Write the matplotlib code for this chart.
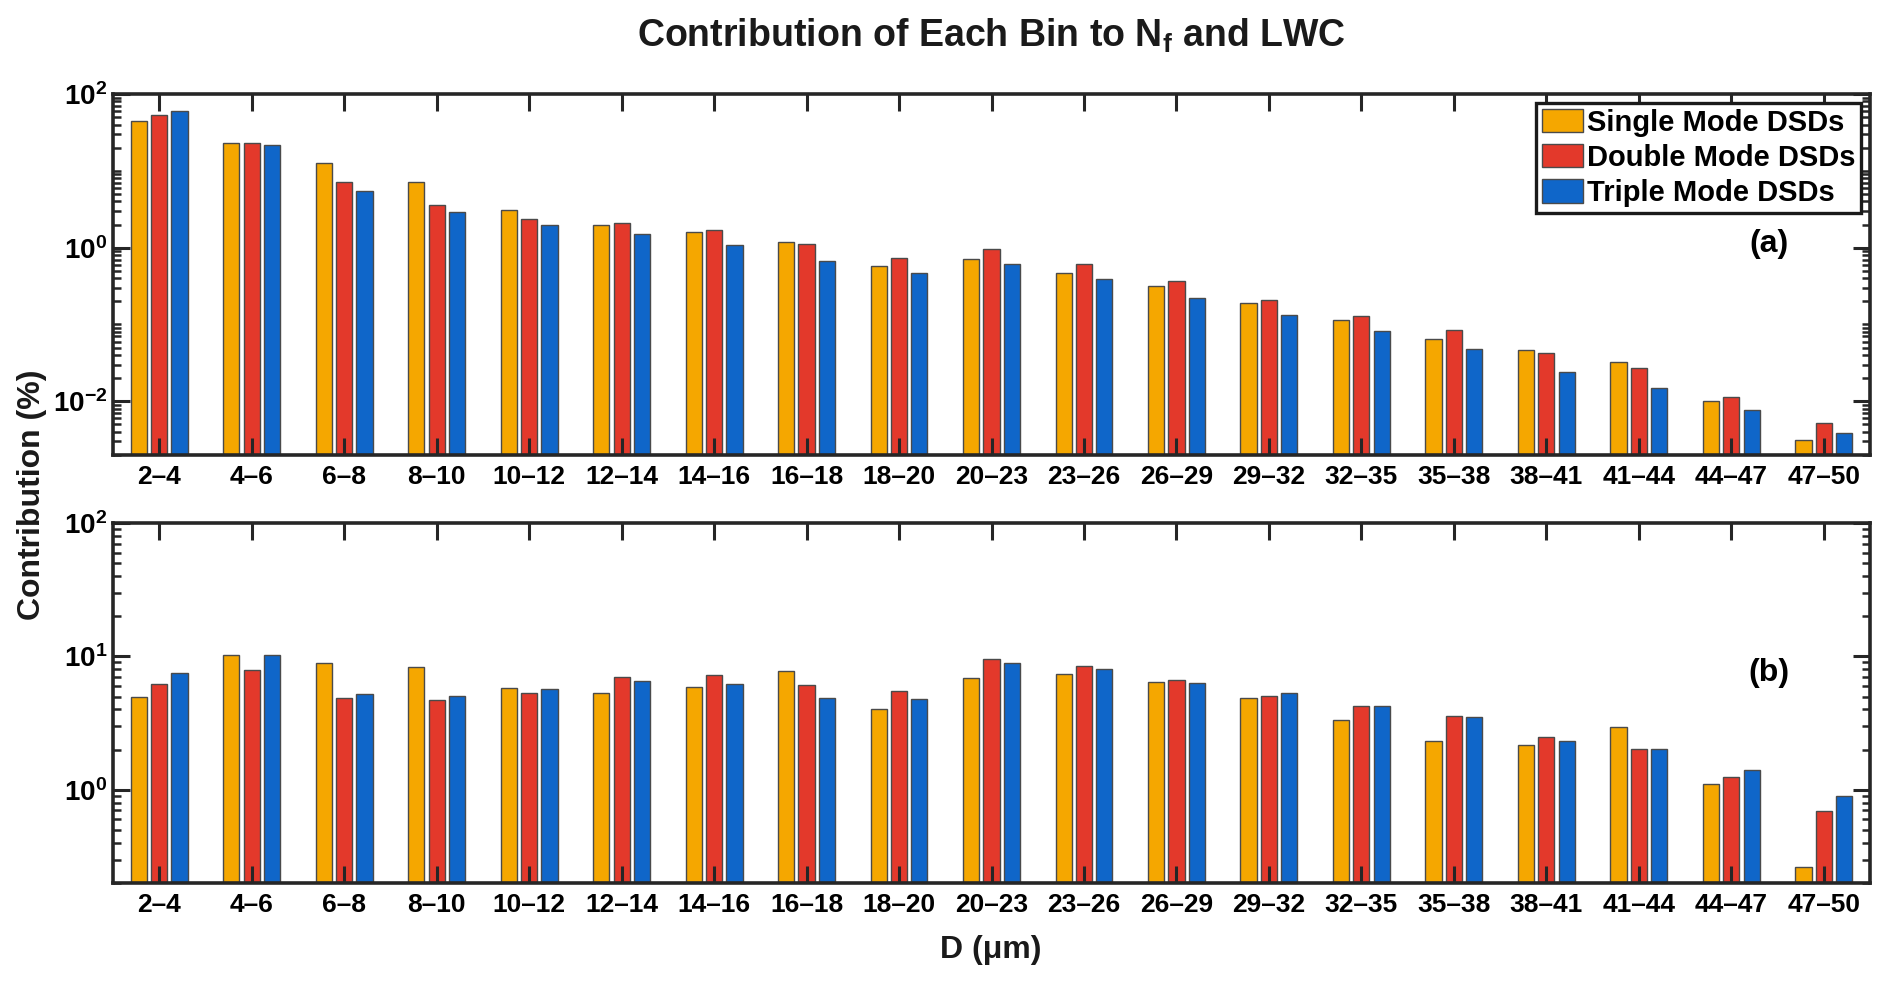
import matplotlib.pyplot as plt
import numpy as np
from matplotlib.ticker import FixedLocator, FixedFormatter, NullFormatter

plt.rcParams['font.family'] = ['Liberation Sans', 'DejaVu Sans']
plt.rcParams['font.weight'] = 'bold'
plt.rcParams['mathtext.fontset'] = 'custom'
plt.rcParams['mathtext.rm'] = 'Liberation Sans:bold'
plt.rcParams['mathtext.bf'] = 'Liberation Sans:bold'
plt.rcParams['mathtext.it'] = 'Liberation Sans:bold'

# size bins (um)
bins = ['2–4', '4–6', '6–8', '8–10', '10–12', '12–14', '14–16', '16–18', '18–20',
        '20–23', '23–26', '26–29', '29–32', '32–35', '35–38', '38–41', '41–44',
        '44–47', '47–50']

# (a) contribution to Nf (%)
single_nf = [44.9, 23.2, 12.5, 7.1, 3.13, 1.96, 1.59, 1.19, 0.574, 0.702, 0.464,
             0.316, 0.189, 0.116, 0.0655, 0.0469, 0.0323, 0.0101, 0.00313]
double_nf = [53.2, 22.7, 7.1, 3.6, 2.37, 2.12, 1.68, 1.12, 0.724, 0.96, 0.604,
             0.364, 0.211, 0.130, 0.0842, 0.0424, 0.0269, 0.0113, 0.00524]
triple_nf = [60.7, 22.0, 5.43, 2.92, 1.96, 1.52, 1.09, 0.668, 0.464, 0.604, 0.387,
             0.220, 0.131, 0.0817, 0.0483, 0.0241, 0.0147, 0.0077, 0.00391]

# (b) contribution to LWC (%)
single_lwc = [4.96, 10.3, 8.97, 8.28, 5.76, 5.32, 5.93, 7.77, 4.02, 6.91, 7.41,
              6.38, 4.89, 3.34, 2.34, 2.18, 2.94, 1.10, 0.265]
double_lwc = [6.18, 7.94, 4.85, 4.69, 5.35, 7.00, 7.29, 6.12, 5.52, 9.60, 8.41,
              6.60, 5.09, 4.28, 3.58, 2.49, 2.03, 1.24, 0.695]
triple_lwc = [7.55, 10.3, 5.23, 5.08, 5.66, 6.50, 6.18, 4.86, 4.83, 8.91, 7.98,
              6.30, 5.27, 4.26, 3.52, 2.32, 2.02, 1.40, 0.90]

series_names = ['Single Mode DSDs', 'Double Mode DSDs', 'Triple Mode DSDs']
colors = ['#F5A700', '#E3392B', '#0F66C9']

W, H = 1892, 986
fig = plt.figure(figsize=(W / 100, H / 100), dpi=100)
ax_a = fig.add_axes([113 / W, 1 - 455 / H, (1870 - 113) / W, 361 / H])
ax_b = fig.add_axes([113 / W, 1 - 883 / H, (1870 - 113) / W, 360 / H])

x = np.arange(1, len(bins) + 1)
offsets = [-0.22, 0.0, 0.22]
width = 0.175


def draw_panel(ax, data, ylim, majors, tag, tag_y):
    bars = []
    for k in range(3):
        b = ax.bar(x + offsets[k], data[k], width, color=colors[k],
                   edgecolor='#4a4a4a', linewidth=1.0, label=series_names[k])
        bars.append(b)
    ax.set_yscale('log')
    ax.set_xlim(0.5, len(bins) + 0.5)
    ax.set_ylim(ylim)

    ax.set_xticks(x)
    ax.set_xticklabels(bins, fontsize=19, fontweight='bold')

    ax.yaxis.set_major_locator(FixedLocator(majors))
    ax.yaxis.set_major_formatter(FixedFormatter(
        [r'$10^{%d}$' % int(round(np.log10(m))) for m in majors]))
    minors = []
    for e in range(-3, 3):
        for s in range(1, 10):
            v = s * 10.0 ** e
            if ylim[0] <= v <= ylim[1] and not any(abs(v - m) / m < 1e-6 for m in majors):
                minors.append(v)
    ax.yaxis.set_minor_locator(FixedLocator(minors))
    ax.yaxis.set_minor_formatter(NullFormatter())

    ax.tick_params(which='both', direction='in', top=True, right=True,
                   color='#262626')
    ax.tick_params(which='major', length=12, width=2.2, labelsize=19, pad=7)
    ax.tick_params(axis='y', which='major', labelsize=20, pad=4)
    ax.tick_params(which='minor', length=6, width=1.8)
    ax.tick_params(axis='x', which='minor', bottom=False, top=False)
    for sp in ax.spines.values():
        sp.set_linewidth(2.6)
        sp.set_color('#262626')

    ax.text(1769 / W, tag_y, tag, transform=fig.transFigure, fontsize=23,
            fontweight='bold', ha='center', va='center')
    return bars


draw_panel(ax_a, [single_nf, double_nf, triple_nf], (0.002, 100),
           [1e-2, 1e0, 1e2], '(a)', 1 - 244 / H)
draw_panel(ax_b, [single_lwc, double_lwc, triple_lwc], (0.2, 100),
           [1e0, 1e1, 1e2], '(b)', 1 - 673 / H)

leg = ax_a.legend(loc='upper right', fontsize=21, frameon=True, fancybox=False,
                  handlelength=1.4, handleheight=0.85, handletextpad=0.15,
                  labelspacing=0.25, borderpad=0.2, borderaxespad=0.3,
                  framealpha=1)
leg.get_frame().set_edgecolor('#1a1a1a')
leg.get_frame().set_linewidth(2.4)
for t in leg.get_texts():
    t.set_fontweight('bold')

fig.text(991 / W, 1 - 47 / H, r'Contribution of Each Bin to N$_{\mathbf{f}}$ and LWC',
         fontsize=27, fontweight='bold', ha='center', va='baseline', color='#1a1a1a')
fig.text(32 / W, 1 - 495 / H, 'Contribution (%)', rotation=90, fontsize=23,
         fontweight='bold', ha='center', va='center', color='#1a1a1a')
fig.text(991 / W, 1 - 950 / H, 'D (μm)', fontsize=23, fontweight='bold',
         ha='center', va='center', color='#1a1a1a')

plt.savefig('out.png', dpi=100)
